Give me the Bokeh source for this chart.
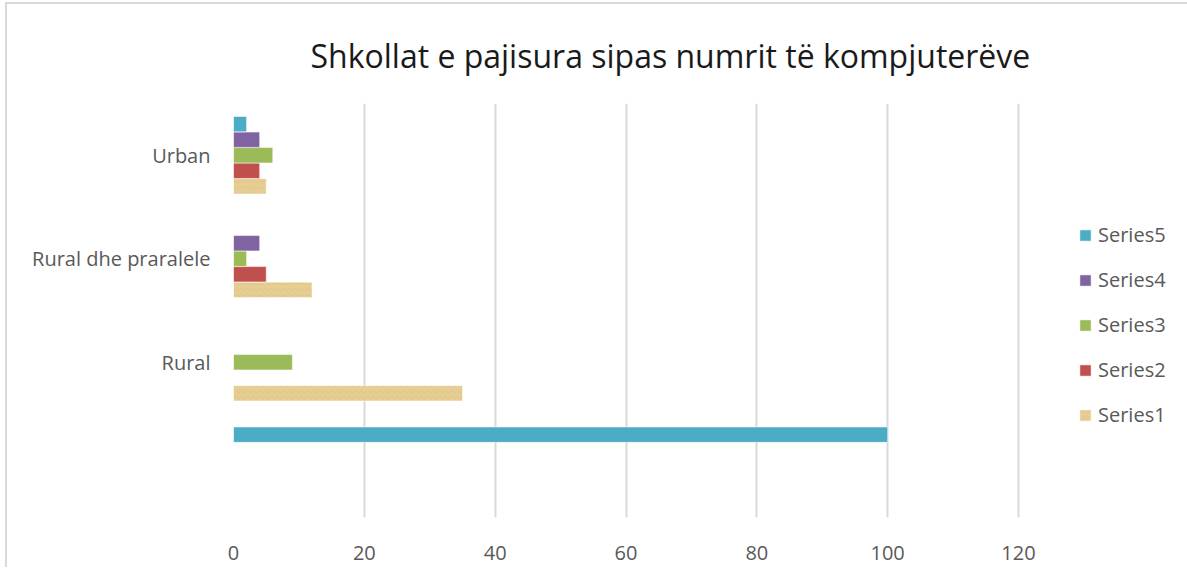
from bokeh.plotting import figure
from bokeh.models import FactorRange, Range1d, FixedTicker, Legend, LegendItem
from bokeh.transform import dodge
from bokeh.embed import file_html
from bokeh.resources import INLINE

categories = [" ", "Rural", "Rural dhe praralele", "Urban"]
series_names = ["Series1", "Series2", "Series3", "Series4", "Series5"]
series1 = [0, 35, 12, 5]
series2 = [0, 0, 5, 4]
series3 = [0, 9, 2, 6]
series4 = [0, 0, 4, 4]
series5 = [100, 0, 0, 2]
x_ticks = [0, 20, 40, 60, 80, 100, 120]
title_text = "Shkollat e pajisura sipas numrit të kompjuterëve"

colors = ["#E6CD92", "#C0504D", "#9BBB59", "#8064A2", "#4BACC6"]
all_series = [series1, series2, series3, series4, series5]
offsets = [-0.3, -0.15, 0.0, 0.15, 0.3]

FONT = "Open Sans"

W = 1183
# frame spans to the right edge so the legend can live inside it;
# the axis scale keeps 0..120 on the same pixels as the reference
x_end = 120 * (7 + W - 4 - 233) / (1018 - 233)

p = figure(width=W, height=565, y_range=FactorRange(*categories),
           x_range=Range1d(0, x_end), output_backend="svg", toolbar_location=None,
           min_border_left=226, min_border_right=4, min_border_top=98,
           min_border_bottom=52)
p.outline_line_color = None
p.background_fill_color = "white"
p.border_fill_color = "white"

p.title.text = title_text
p.title.text_font = FONT
p.title.text_font_size = "32px"
p.title.text_font_style = "normal"
p.title.text_color = "#1a1a1a"
p.title.align = "left"
p.title.offset = 77
p.title.vertical_align = "bottom"
p.title.standoff = 54

renderers = []
for name, vals, col, off in zip(series_names, all_series, colors, offsets):
    src = {"cat": categories, "val": vals}
    r = p.hbar(y=dodge("cat", off, range=p.y_range), right="val", left=0,
               height=0.148, source=src, fill_color=col,
               line_color="white", line_width=0.5)
    if name == "Series1":
        r.glyph.hatch_pattern = "horizontal_wave"
        r.glyph.hatch_color = "#D4B877"
        r.glyph.hatch_alpha = 0.45
        r.glyph.hatch_scale = 6
    renderers.append(r)

p.xaxis.ticker = FixedTicker(ticks=x_ticks)
p.xaxis.axis_line_color = None
p.xaxis.major_tick_line_color = None
p.xaxis.minor_tick_line_color = None
p.xaxis.major_label_text_font = FONT
p.xaxis.major_label_text_font_size = "20px"
p.xaxis.major_label_text_color = "#595959"
p.xaxis.major_label_standoff = 22

p.yaxis.axis_line_color = None
p.yaxis.major_tick_line_color = None
p.yaxis.minor_tick_line_color = None
p.yaxis.major_label_text_font = FONT
p.yaxis.major_label_text_font_size = "20px"
p.yaxis.major_label_text_color = "#595959"
p.yaxis.major_label_standoff = 17

p.ygrid.grid_line_color = None
p.xgrid.grid_line_color = "#d9d9d9"
p.xgrid.grid_line_width = 2

items = [LegendItem(label=n, renderers=[r]) for n, r in zip(series_names, renderers)][::-1]
legend = Legend(items=items, location=(845, 89), orientation="vertical",
                glyph_width=14, glyph_height=14, label_height=20, spacing=18,
                padding=0, margin=0, border_line_color=None,
                background_fill_alpha=0, label_text_font=FONT,
                label_text_font_size="20px", label_text_color="#595959",
                label_standoff=6)
p.add_layout(legend, "center")

p.styles = {"margin-left": "5px", "margin-top": "2px",
            "border-left": "2px solid #d9d9d9", "border-top": "2px solid #d9d9d9"}

open("out.html", "w").write(file_html(p, INLINE))
